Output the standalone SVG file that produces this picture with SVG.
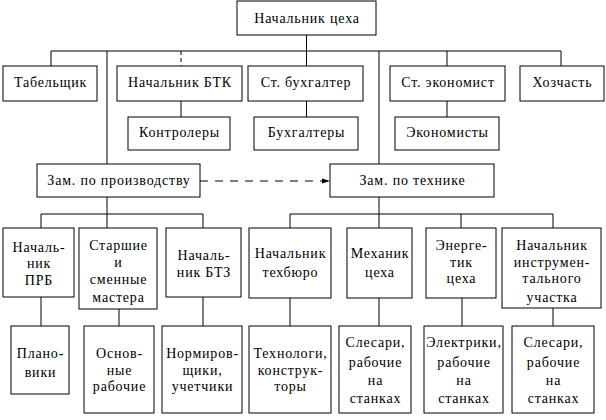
<svg xmlns="http://www.w3.org/2000/svg" width="606" height="420" viewBox="0 0 606 420">
<defs>
<style>
rect{fill:#fff;stroke:#000;stroke-width:1}
.c line,.c path{stroke:#000;stroke-width:1;fill:none}
text{font-family:"Liberation Serif","Times New Roman",serif;font-size:14px;fill:#000;text-anchor:middle;letter-spacing:0.8px}
</style>
<marker id="ah" markerWidth="8" markerHeight="6" refX="8" refY="3" orient="auto" markerUnits="userSpaceOnUse">
<path d="M0,0.5 L8,3 L0,5.5 Z" fill="#000"/>
</marker>
</defs>
<rect x="0" y="0" width="606" height="420" style="stroke:none"/>
<g class="c" id="connectors">
<line x1="306.5" y1="35" x2="306.5" y2="66"/>
<line x1="51" y1="51" x2="561" y2="51"/>
<line x1="51" y1="51" x2="51" y2="66"/>
<line x1="107" y1="51" x2="107" y2="164"/>
<line x1="181" y1="51" x2="181" y2="66" stroke-dasharray="4,3"/>
<line x1="379" y1="51" x2="379" y2="164"/>
<line x1="447" y1="51" x2="447" y2="66"/>
<line x1="561" y1="51" x2="561" y2="66"/>
<line x1="181" y1="101" x2="181" y2="117"/>
<line x1="306.5" y1="101" x2="306.5" y2="117"/>
<line x1="447" y1="101" x2="447" y2="117"/>
<line x1="200" y1="181" x2="330" y2="181" stroke-dasharray="8,7" marker-end="url(#ah)"/>
<line x1="107" y1="197" x2="107" y2="228"/>
<line x1="41" y1="214" x2="203" y2="214"/>
<line x1="41" y1="214" x2="41" y2="228"/>
<line x1="203" y1="214" x2="203" y2="228"/>
<line x1="379" y1="197" x2="379" y2="228"/>
<line x1="290" y1="214" x2="553" y2="214"/>
<line x1="290" y1="214" x2="290" y2="228"/>
<line x1="461" y1="214" x2="461" y2="228"/>
<line x1="553" y1="214" x2="553" y2="228"/>
<line x1="41" y1="297" x2="41" y2="326"/>
<line x1="119" y1="309" x2="119" y2="326"/>
<line x1="203" y1="297" x2="203" y2="326"/>
<line x1="290" y1="298" x2="290" y2="326"/>
<line x1="379" y1="298" x2="379" y2="326"/>
<line x1="462" y1="298" x2="462" y2="326"/>
<line x1="553" y1="308" x2="553" y2="326"/>
</g>
<g id="n-head"><rect x="237" y="1" width="139" height="34"/><text x="307" y="23">Начальник цеха</text></g>
<g id="n-tabel"><rect x="3" y="66" width="94" height="35"/><text x="50.5" y="87">Табельщик</text></g>
<g id="n-btk"><rect x="117" y="66" width="125" height="35"/><text x="180" y="87">Начальник БТК</text></g>
<g id="n-buh"><rect x="248" y="66" width="115" height="35"/><text x="306" y="87">Ст. бухгалтер</text></g>
<g id="n-econ"><rect x="390" y="66" width="115" height="35"/><text x="448" y="87">Ст. экономист</text></g>
<g id="n-hoz"><rect x="520" y="66" width="84" height="35"/><text x="562.5" y="87">Хозчасть</text></g>
<g id="n-kontr"><rect x="128" y="117" width="102" height="33"/><text x="179.5" y="137">Контролеры</text></g>
<g id="n-buhs"><rect x="254" y="117" width="104" height="33"/><text x="306.5" y="137">Бухгалтеры</text></g>
<g id="n-econs"><rect x="395" y="117" width="104" height="33"/><text x="447.5" y="137">Экономисты</text></g>
<g id="n-zprod"><rect x="37" y="164" width="163" height="33"/><text x="119" y="185">Зам. по производству</text></g>
<g id="n-ztech"><rect x="330" y="164" width="164" height="33"/><text x="412.5" y="185">Зам. по технике</text></g>
<g id="n-prb"><rect x="3" y="228" width="71" height="69"/><text x="39" y="252">Началь-</text><text x="39" y="268">ник</text><text x="39" y="285">ПРБ</text></g>
<g id="n-master"><rect x="79" y="228" width="78" height="81"/><text x="118.5" y="250">Старшие</text><text x="118.5" y="267">и</text><text x="118.5" y="284">сменные</text><text x="118.5" y="302">мастера</text></g>
<g id="n-btz"><rect x="166" y="228" width="75" height="69"/><text x="204" y="260">Началь-</text><text x="204" y="277">ник БТЗ</text></g>
<g id="n-techb"><rect x="249" y="228" width="82" height="70"/><text x="290.5" y="258">Начальник</text><text x="290.5" y="277">техбюро</text></g>
<g id="n-mech"><rect x="347" y="228" width="65" height="70"/><text x="380" y="258">Механик</text><text x="380" y="277">цеха</text></g>
<g id="n-energ"><rect x="426" y="228" width="70" height="70"/><text x="461.5" y="250">Энерге-</text><text x="461.5" y="267">тик</text><text x="461.5" y="283">цеха</text></g>
<g id="n-instr"><rect x="502" y="228" width="99" height="80"/><text x="552" y="250">Начальник</text><text x="552" y="267">инструмен-</text><text x="552" y="283">тального</text><text x="552" y="302">участка</text></g>
<g id="n-plan"><rect x="11" y="326" width="58" height="68"/><text x="40.5" y="358">Плано-</text><text x="40.5" y="377">вики</text></g>
<g id="n-osn"><rect x="84" y="326" width="70" height="87"/><text x="119.5" y="358">Основ-</text><text x="119.5" y="375">ные</text><text x="119.5" y="391">рабочие</text></g>
<g id="n-norm"><rect x="162" y="326" width="80" height="87"/><text x="202.5" y="358">Нормиров-</text><text x="202.5" y="375">щики,</text><text x="202.5" y="391">учетчики</text></g>
<g id="n-techn"><rect x="249" y="326" width="82" height="87"/><text x="290.5" y="358">Технологи,</text><text x="290.5" y="375">конструк-</text><text x="290.5" y="391">торы</text></g>
<g id="n-sles1"><rect x="339" y="326" width="72" height="87"/><text x="375.5" y="347">Слесари,</text><text x="375.5" y="367">рабочие</text><text x="375.5" y="385">на</text><text x="375.5" y="403">станках</text></g>
<g id="n-elek"><rect x="424" y="326" width="79" height="87"/><text x="464" y="347">Электрики,</text><text x="464" y="367">рабочие</text><text x="464" y="385">на</text><text x="464" y="403">станках</text></g>
<g id="n-sles2"><rect x="512" y="326" width="82" height="87"/><text x="553.5" y="347">Слесари,</text><text x="553.5" y="367">рабочие</text><text x="553.5" y="385">на</text><text x="553.5" y="403">станках</text></g>
</svg>
